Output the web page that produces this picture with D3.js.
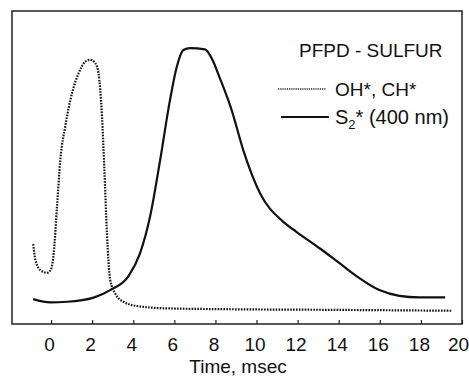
<!DOCTYPE html>
<html>
<head>
<meta charset="utf-8">
<script src="https://cdn.jsdelivr.net/npm/d3@7"></script>
<style>
  body { margin: 0; background: #fff; }
  text { font-family: "Liberation Sans", Arial, sans-serif; fill: #111; }
</style>
</head>
<body>
<div id="chart"></div>
<script>
// data (time in msec, relative intensity)
var xTicks = [0, 2, 4, 6, 8, 10, 12, 14, 16, 18, 20];

var s2Time = [-0.87, -0.03, 0.78, 2.07, 2.88, 3.77, 4.33, 4.82, 5.31, 5.79, 6.12, 6.44, 6.76,
              7.49, 7.82, 8.22, 8.79, 9.35, 10.17, 11.29, 11.94, 13.07, 14.04, 15.01, 15.98,
              16.95, 17.92, 19.18];
var s2Value = [9.0, 7.9, 8.1, 9.5, 12.0, 16.7, 24.3, 36.6, 55.5, 75.6, 86.7, 92.3, 92.9,
               92.5, 89.5, 82.8, 72.2, 58.9, 44.4, 34.9, 31.5, 26.0, 21.0, 16.0, 12.0,
               10.1, 9.6, 9.6];

var ohTime = [-0.87, -0.76, -0.52, -0.19, 0.0, 0.13, 0.29, 0.45, 0.69, 1.02, 1.34, 1.67, 1.91,
              2.15, 2.31, 2.48, 2.59, 2.72, 2.88, 3.12, 3.52, 4.17, 5.63, 8.85, 13.72, 19.5];
var ohValue = [27.4, 22.1, 18.7, 17.8, 19.0, 24.3, 39.9, 55.5, 66.7, 77.8, 84.5, 88.4, 89.0,
               87.9, 84.5, 70.0, 53.3, 31.0, 15.4, 10.9, 8.1, 6.7, 5.9, 5.6, 5.4, 5.1];

var width = 469, height = 382;
var frame = { left: 12, top: 11, right: 462, bottom: 324 };

var svg = d3.select('#chart')
            .append('svg')
            .attr('width', width)
            .attr('height', height);

var x = d3.scaleLinear().domain([-1.9, 20]).range([frame.left, frame.right]);
var y = d3.scaleLinear().domain([0, 105]).range([326, 12]);

// frame
svg.append('rect')
   .attr('x', frame.left)
   .attr('y', frame.top)
   .attr('width', frame.right - frame.left)
   .attr('height', frame.bottom - frame.top)
   .attr('fill', 'none')
   .attr('stroke', '#222')
   .attr('stroke-width', 1.5);

// bottom axis, ticks point inward
var xAxis = svg.append('g')
               .attr('transform', 'translate(0,' + frame.bottom + ')')
               .call(d3.axisBottom(x).tickValues(xTicks).tickSizeInner(-4).tickSizeOuter(0).tickPadding(14));
xAxis.select('.domain').remove();
xAxis.selectAll('line').attr('stroke', '#222').attr('stroke-width', 1.2);
xAxis.selectAll('text')
     .attr('font-size', 19)
     .attr('dx', function (d) { return d === 20 ? -4 : -2; })
     .attr('fill', '#111')
     .style('font-family', '"Liberation Sans", Arial, sans-serif');

svg.append('text')
   .attr('x', 238)
   .attr('y', 373)
   .attr('text-anchor', 'middle')
   .attr('font-size', 19)
   .text('Time, msec');

var line = d3.line()
             .x(function (d) { return x(d[0]); })
             .y(function (d) { return y(d[1]); })
             .curve(d3.curveMonotoneX);

svg.append('path')
   .datum(d3.zip(ohTime, ohValue))
   .attr('d', line)
   .attr('fill', 'none')
   .attr('stroke', '#111')
   .attr('stroke-width', 2.2)
   .attr('stroke-dasharray', '1.6,1.3');

svg.append('path')
   .datum(d3.zip(s2Time, s2Value))
   .attr('d', line)
   .attr('fill', 'none')
   .attr('stroke', '#111')
   .attr('stroke-width', 2.2);

// legend
svg.append('text')
   .attr('x', 299)
   .attr('y', 57)
   .attr('font-size', 19)
   .text('PFPD - SULFUR');

svg.append('line')
   .attr('x1', 278).attr('x2', 326)
   .attr('y1', 89).attr('y2', 89)
   .attr('stroke', '#222')
   .attr('stroke-width', 1.5)
   .attr('stroke-dasharray', '1.2,1');
svg.append('text')
   .attr('x', 335)
   .attr('y', 96)
   .attr('font-size', 19)
   .text('OH*, CH*');

svg.append('line')
   .attr('x1', 281).attr('x2', 329)
   .attr('y1', 117).attr('y2', 117)
   .attr('stroke', '#111')
   .attr('stroke-width', 2);
var s2 = svg.append('text')
            .attr('x', 335)
            .attr('y', 124)
            .attr('font-size', 20);
s2.append('tspan').text('S');
s2.append('tspan').attr('font-size', 13).attr('dy', 5).text('2');
s2.append('tspan').attr('dy', -5).text('* (400 nm)');
</script>
</body>
</html>
